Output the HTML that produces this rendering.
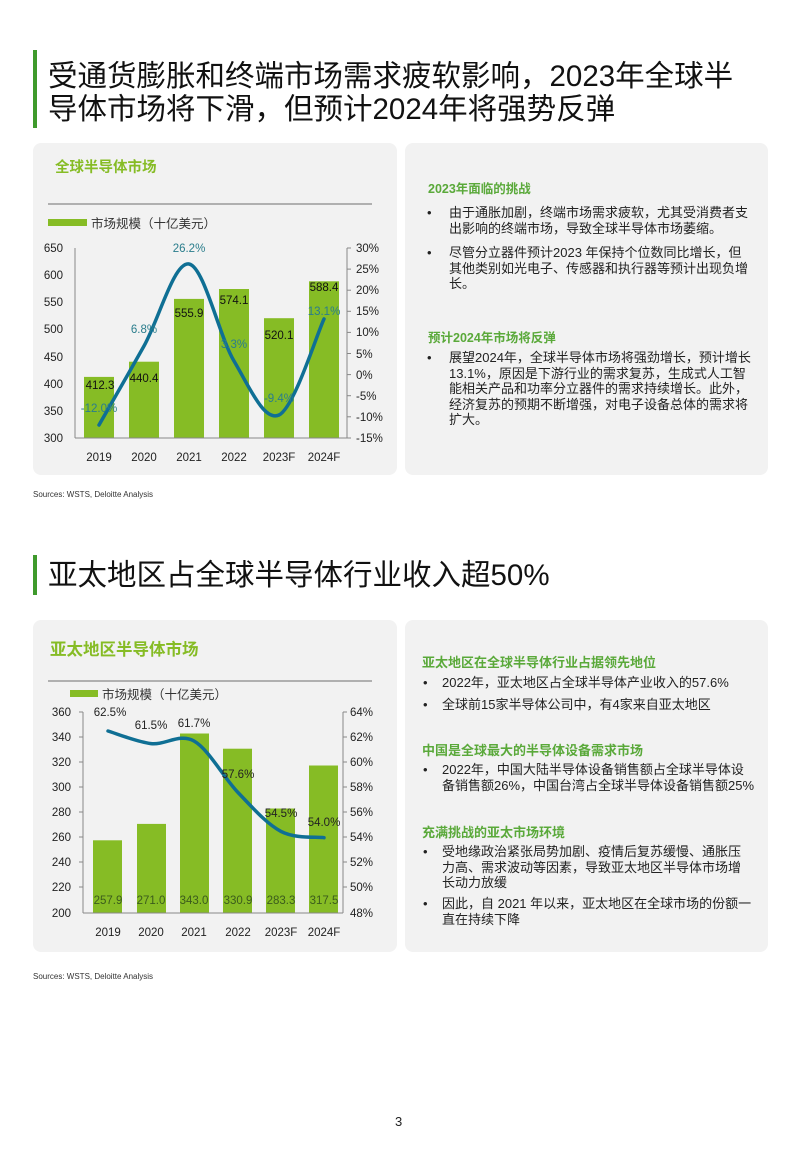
<!DOCTYPE html>
<html><head><meta charset="utf-8"><style>
body{margin:0;background:#fff;}
#p{position:relative;width:800px;height:1154px;overflow:hidden;background:#fff;font-family:"Liberation Sans","Noto Sans CJK SC",sans-serif;color:#1a1a1a;}
.a{position:absolute;white-space:nowrap;}
.card{position:absolute;background:#f2f2f2;border-radius:8px;}
.h{font-size:29.5px;color:#111;line-height:33px;}
.gh{color:#5aa93a;font-weight:bold;font-size:12.5px;}
.gh2{color:#5aa93a;font-weight:bold;font-size:13px;}
.t{font-size:13px;line-height:15.5px;color:#222;}
.card{z-index:0}svg{z-index:1}.a{z-index:2}
</style></head><body><div id="p">
<div class="a" style="left:33px;top:50px;width:4px;height:78px;background:#3f9a2c"></div>
<div class="a h" style="left:48px;top:60px">受通货膨胀和终端市场需求疲软影响，2023年全球半</div>
<div class="a h" style="left:48px;top:93px">导体市场将下滑，但预计2024年将强势反弹</div>

<div class="card" style="left:33px;top:143px;width:364px;height:332px"></div>
<div class="card" style="left:405px;top:143px;width:363px;height:332px"></div>
<div class="a" style="left:55px;top:156px;font-size:14.5px;font-weight:bold;color:#86bc25">全球半导体市场</div>

<svg class="a" style="left:0;top:0" width="800" height="1154" font-family="Liberation Sans,Noto Sans CJK SC,sans-serif">
<line x1="48" y1="204" x2="372" y2="204" stroke="#888" stroke-width="1.2"/>
<rect x="48" y="219" width="39" height="7" fill="#86bc25"/>
<text x="91" y="228" font-size="12.5" fill="#333">市场规模（十亿美元）</text>
<g fill="#86bc25">
<rect x="84" y="376.9" width="30" height="61.1"/>
<rect x="129" y="361.7" width="30" height="76.3"/>
<rect x="174" y="298.9" width="30" height="139.1"/>
<rect x="219" y="289.0" width="30" height="149"/>
<rect x="264" y="318.2" width="30" height="119.8"/>
<rect x="309" y="281.3" width="30" height="156.7"/>
</g>
<g stroke="#888" stroke-width="1"><line x1="75" y1="248" x2="75" y2="438"/><line x1="75" y1="438" x2="347" y2="438"/><line x1="347" y1="248" x2="347" y2="438"/></g>
<g stroke="#888"><line x1="347" y1="248" x2="351" y2="248"/><line x1="347" y1="269.1" x2="351" y2="269.1"/><line x1="347" y1="290.2" x2="351" y2="290.2"/><line x1="347" y1="311.3" x2="351" y2="311.3"/><line x1="347" y1="332.4" x2="351" y2="332.4"/><line x1="347" y1="353.5" x2="351" y2="353.5"/><line x1="347" y1="374.6" x2="351" y2="374.6"/><line x1="347" y1="395.7" x2="351" y2="395.7"/><line x1="347" y1="416.8" x2="351" y2="416.8"/><line x1="347" y1="438" x2="351" y2="438"/></g>
<g font-size="11.5" fill="#222" text-anchor="end">
<text x="63" y="252">650</text><text x="63" y="279">600</text><text x="63" y="306">550</text><text x="63" y="333">500</text><text x="63" y="361">450</text><text x="63" y="388">400</text><text x="63" y="415">350</text><text x="63" y="442">300</text></g>
<g font-size="11.5" fill="#222">
<text x="356" y="252">30%</text><text x="356" y="273">25%</text><text x="356" y="294">20%</text><text x="356" y="315">15%</text><text x="356" y="336">10%</text><text x="356" y="358">5%</text><text x="356" y="379">0%</text><text x="356" y="400">-5%</text><text x="356" y="421">-10%</text><text x="356" y="442">-15%</text></g>
<g font-size="11.5" fill="#222" text-anchor="middle">
<text x="99" y="461">2019</text><text x="144" y="461">2020</text><text x="189" y="461">2021</text><text x="234" y="461">2022</text><text x="279" y="461">2023F</text><text x="324" y="461">2024F</text></g>
<path d="M99,425 C106.5,411.8 129,372.8 144,346 C159,319.2 174,261.5 189,264 C204,266.5 219,335.8 234,361 C249,386.2 264,422 279,415 C294,408 316.5,335 324,319" fill="none" stroke="#0f6f94" stroke-width="3.5" stroke-linecap="round"/>
<g font-size="11.5" fill="#111" text-anchor="middle">
<text x="100" y="389">412.3</text><text x="144" y="382">440.4</text><text x="189" y="317">555.9</text><text x="234" y="304">574.1</text><text x="279" y="339">520.1</text><text x="324" y="291">588.4</text></g>
<g font-size="11.5" fill="#2a7d8c" text-anchor="middle">
<text x="99" y="412">-12.0%</text><text x="144" y="333">6.8%</text><text x="189" y="252">26.2%</text><text x="234" y="348">3.3%</text><text x="279" y="402">-9.4%</text><text x="324" y="315">13.1%</text></g>

<line x1="48" y1="681" x2="372" y2="681" stroke="#888" stroke-width="1.2"/>
<rect x="70" y="690" width="28" height="7" fill="#86bc25"/>
<text x="102" y="699" font-size="12.5" fill="#333">市场规模（十亿美元）</text>
<g fill="#86bc25">
<rect x="93" y="840.3" width="29" height="72.7"/>
<rect x="137" y="823.9" width="29" height="89.1"/>
<rect x="180" y="733.5" width="29" height="179.5"/>
<rect x="223" y="748.7" width="29" height="164.3"/>
<rect x="266" y="808.5" width="29" height="104.5"/>
<rect x="309" y="765.5" width="29" height="147.5"/>
</g>
<g stroke="#888" stroke-width="1"><line x1="83" y1="712" x2="83" y2="913"/><line x1="83" y1="913" x2="343" y2="913"/><line x1="343" y1="712" x2="343" y2="913"/></g>
<g stroke="#888"><line x1="79" y1="712" x2="83" y2="712"/><line x1="79" y1="737" x2="83" y2="737"/><line x1="79" y1="762" x2="83" y2="762"/><line x1="79" y1="787" x2="83" y2="787"/><line x1="79" y1="812" x2="83" y2="812"/><line x1="79" y1="837" x2="83" y2="837"/><line x1="79" y1="862" x2="83" y2="862"/><line x1="79" y1="887" x2="83" y2="887"/>
<line x1="343" y1="712" x2="347" y2="712"/><line x1="343" y1="737" x2="347" y2="737"/><line x1="343" y1="762" x2="347" y2="762"/><line x1="343" y1="787" x2="347" y2="787"/><line x1="343" y1="812" x2="347" y2="812"/><line x1="343" y1="837" x2="347" y2="837"/><line x1="343" y1="862" x2="347" y2="862"/><line x1="343" y1="887" x2="347" y2="887"/></g>
<g font-size="11.5" fill="#222" text-anchor="end">
<text x="71" y="716">360</text><text x="71" y="741">340</text><text x="71" y="766">320</text><text x="71" y="791">300</text><text x="71" y="816">280</text><text x="71" y="841">260</text><text x="71" y="866">240</text><text x="71" y="891">220</text><text x="71" y="917">200</text></g>
<g font-size="11.5" fill="#222">
<text x="350" y="716">64%</text><text x="350" y="741">62%</text><text x="350" y="766">60%</text><text x="350" y="791">58%</text><text x="350" y="816">56%</text><text x="350" y="841">54%</text><text x="350" y="866">52%</text><text x="350" y="891">50%</text><text x="350" y="917">48%</text></g>
<g font-size="11.5" fill="#222" text-anchor="middle">
<text x="108" y="936">2019</text><text x="151" y="936">2020</text><text x="194" y="936">2021</text><text x="238" y="936">2022</text><text x="281" y="936">2023F</text><text x="324" y="936">2024F</text></g>
<path d="M108,731 C115.2,733.1 136.7,741.9 151,743.6 C165.3,745.3 179.5,732.9 194,741 C208.5,749.2 223.5,777.4 238,792.5 C252.5,807.6 266.7,823.9 281,831.4 C295.3,838.9 316.8,836.6 324,837.7" fill="none" stroke="#0f6f94" stroke-width="3.5" stroke-linecap="round"/>
<g font-size="11.5" fill="#222" text-anchor="middle">
<text x="110" y="716">62.5%</text><text x="151" y="729">61.5%</text><text x="194" y="727">61.7%</text><text x="238" y="778">57.6%</text><text x="281" y="817">54.5%</text><text x="324" y="826">54.0%</text></g>
<g font-size="11.5" fill="#3b5b1c" text-anchor="middle">
<text x="108" y="904">257.9</text><text x="151" y="904">271.0</text><text x="194" y="904">343.0</text><text x="238" y="904">330.9</text><text x="281" y="904">283.3</text><text x="324" y="904">317.5</text></g>
</svg>

<div class="a gh" style="left:428px;top:178px">2023年面临的挑战</div>
<div class="a t" style="left:427px;top:205px">•</div>
<div class="a t" style="left:449px;top:205px">由于通胀加剧，终端市场需求疲软，尤其受消费者支<br>出影响的终端市场，导致全球半导体市场萎缩。</div>
<div class="a t" style="left:427px;top:245px">•</div>
<div class="a t" style="left:449px;top:245px">尽管分立器件预计2023 年保持个位数同比增长，但<br>其他类别如光电子、传感器和执行器等预计出现负增<br>长。</div>
<div class="a gh" style="left:428px;top:327px">预计2024年市场将反弹</div>
<div class="a t" style="left:427px;top:350px">•</div>
<div class="a t" style="left:449px;top:350px">展望2024年，全球半导体市场将强劲增长，预计增长<br>13.1%，原因是下游行业的需求复苏，生成式人工智<br>能相关产品和功率分立器件的需求持续增长。此外，<br>经济复苏的预期不断增强，对电子设备总体的需求将<br>扩大。</div>

<div class="a" style="left:33px;top:490px;font-size:8px;color:#333">Sources: WSTS, Deloitte Analysis</div>

<div class="a" style="left:33px;top:555px;width:4px;height:40px;background:#3f9a2c"></div>
<div class="a h" style="left:48px;top:559px">亚太地区占全球半导体行业收入超50%</div>

<div class="card" style="left:33px;top:620px;width:364px;height:332px"></div>
<div class="card" style="left:405px;top:620px;width:363px;height:332px"></div>
<div class="a" style="left:50px;top:636px;font-size:16.5px;font-weight:bold;color:#86bc25">亚太地区半导体市场</div>

<div class="a gh2" style="left:422px;top:652px">亚太地区在全球半导体行业占据领先地位</div>
<div class="a t" style="left:423px;top:675px">•</div><div class="a t" style="left:442px;top:675px">2022年，亚太地区占全球半导体产业收入的57.6%</div>
<div class="a t" style="left:423px;top:697px">•</div><div class="a t" style="left:442px;top:697px">全球前15家半导体公司中，有4家来自亚太地区</div>
<div class="a gh2" style="left:422px;top:740px">中国是全球最大的半导体设备需求市场</div>
<div class="a t" style="left:423px;top:762px">•</div><div class="a t" style="left:442px;top:762px">2022年，中国大陆半导体设备销售额占全球半导体设<br>备销售额26%，中国台湾占全球半导体设备销售额25%</div>
<div class="a gh2" style="left:422px;top:822px">充满挑战的亚太市场环境</div>
<div class="a t" style="left:423px;top:844px">•</div><div class="a t" style="left:442px;top:844px">受地缘政治紧张局势加剧、疫情后复苏缓慢、通胀压<br>力高、需求波动等因素，导致亚太地区半导体市场增<br>长动力放缓</div>
<div class="a t" style="left:423px;top:896px">•</div><div class="a t" style="left:442px;top:896px">因此，自 2021 年以来，亚太地区在全球市场的份额一<br>直在持续下降</div>

<div class="a" style="left:33px;top:972px;font-size:8px;color:#333">Sources: WSTS, Deloitte Analysis</div>
<div class="a" style="left:395px;top:1114px;font-size:13px;color:#222">3</div>
</div>
</body></html>
